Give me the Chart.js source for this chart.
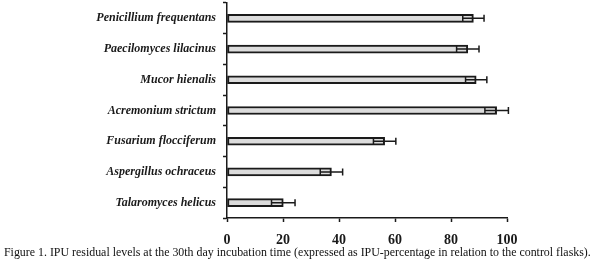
<!DOCTYPE html>
<html>
<head>
<meta charset="utf-8">
<script src="https://cdn.jsdelivr.net/npm/chart.js@4"></script>
<style>
  body { margin: 0; background: #fff; }
  #wrap { position: relative; width: 596px; height: 270px; }
  #caption {
    position: absolute; left: 4px; top: 245px;
    font: 11.9px "Liberation Serif", serif; color: #111; white-space: nowrap;
  }
</style>
</head>
<body>
<div id="wrap">
  <canvas id="myChart" width="596" height="248"></canvas>
  <div id="caption">Figure 1. IPU residual levels at the 30th day incubation time (expressed as IPU-percentage in relation to the control flasks).</div>
</div>
<script>
// fungi, top to bottom
var species = ['Penicillium frequentans', 'Paecilomyces lilacinus', 'Mucor hienalis',
  'Acremonium strictum', 'Fusarium flocciferum', 'Aspergillus ochraceus', 'Talaromyces helicus'];
// IPU residual (%) and standard deviation
var residual = [88, 86, 89, 96.3, 56.3, 37.3, 20.1];
var sd = [3.8, 4, 3.8, 4.2, 4, 4, 4.2];
var xTicks = [0, 20, 40, 60, 80, 100];

var ink = '#1a1a1a';

// draws the +/- sd whiskers on every bar
var errorBars = {
  id: 'errorBars',
  afterDatasetsDraw: function (chart) {
    var ctx = chart.ctx;
    var x = chart.scales.x;
    var meta = chart.getDatasetMeta(0);
    ctx.save();
    ctx.strokeStyle = ink;
    ctx.lineWidth = 1.5;
    meta.data.forEach(function (bar, i) {
      var lo = x.getPixelForValue(residual[i] - sd[i]);
      var hi = x.getPixelForValue(residual[i] + sd[i]);
      var y = bar.y;
      ctx.beginPath();
      ctx.moveTo(lo, y); ctx.lineTo(hi, y);
      ctx.moveTo(lo, y - 3.5); ctx.lineTo(lo, y + 3.5);
      ctx.moveTo(hi, y - 3.5); ctx.lineTo(hi, y + 3.5);
      ctx.stroke();
    });
    ctx.restore();
  }
};

var ctx = document.getElementById('myChart').getContext('2d');
var myChart = new Chart(ctx, {
  type: 'bar',
  data: {
    labels: species,
    datasets: [{
      data: residual,
      backgroundColor: '#dcdcdc',
      borderColor: ink,
      borderWidth: 2,
      borderSkipped: false,
      barThickness: 8
    }]
  },
  options: {
    indexAxis: 'y',
    responsive: false,
    animation: false,
    layout: { padding: { top: 3, right: 89, left: 0, bottom: 0 } },
    plugins: { legend: { display: false }, tooltip: { enabled: false } },
    scales: {
      x: {
        min: 0, max: 100,
        afterBuildTicks: function (s) { s.ticks = xTicks.map(function (v) { return { value: v }; }); },
        afterFit: function (s) { s.height = 30; },
        border: { color: ink, width: 1.5 },
        grid: { drawOnChartArea: false, tickLength: 4, tickColor: ink, tickWidth: 1.5 },
        ticks: { color: ink, padding: 10, font: { family: 'Liberation Serif', size: 14, weight: 'bold' } }
      },
      y: {
        afterFit: function (s) { s.width = 227; s.paddingTop = 0; s.paddingBottom = 0; },
        border: { color: ink, width: 1.5 },
        grid: { drawOnChartArea: false, offset: true, tickLength: 4, tickColor: ink, tickWidth: 1.5 },
        ticks: { color: ink, padding: 7, font: { family: 'Liberation Serif', size: 12, weight: 'bold', style: 'italic' } }
      }
    }
  },
  plugins: [errorBars]
});
</script>
</body>
</html>
